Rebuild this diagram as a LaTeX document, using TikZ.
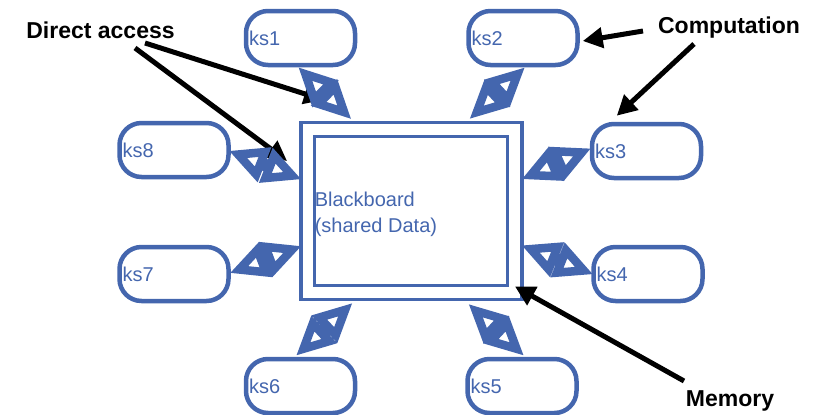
\documentclass[tikz,border=0pt]{standalone}
\usepackage{fontspec}
\setmainfont{Liberation Sans}
\usetikzlibrary{arrows.meta,calc}
\definecolor{kblue}{RGB}{68,102,174}
\newcommand\blkarrow[2]{%
  \path (#1) coordinate (ba-a) (#2) coordinate (ba-b);
  \path ($(ba-a)!24pt!(ba-b)$) coordinate (ba-h1)
        ($(ba-b)!24pt!(ba-a)$) coordinate (ba-h2);
  \draw[blockarrow] (ba-a) -- ($(ba-h1)!12pt!90:(ba-b)$) -- ($(ba-h1)!2pt!90:(ba-b)$)
    -- ($(ba-h2)!2pt!-90:(ba-a)$) -- ($(ba-h2)!12pt!-90:(ba-a)$) -- (ba-b)
    -- ($(ba-h2)!12pt!90:(ba-a)$) -- ($(ba-h2)!2pt!90:(ba-a)$)
    -- ($(ba-h1)!2pt!-90:(ba-b)$) -- ($(ba-h1)!12pt!-90:(ba-b)$) -- cycle;}
\begin{document}
\begin{tikzpicture}[x=1pt,y=-1pt,
  ksbox/.style={draw=kblue,line width=4.5pt,rounded corners=22pt,minimum height=54pt,
    text width=103pt,inner xsep=3pt,align=left,text=kblue,font=\fontsize{20}{24}\selectfont},
  bbox/.style={draw=kblue,line width=3.8pt,inner sep=0pt},
  blockarrow/.style={draw=kblue,fill=white,line width=8.5pt,line join=miter,miter limit=3},
  callout/.style={draw=black,line width=5pt,-{Triangle[width=20pt,length=20pt]}},
  lbl/.style={font=\bfseries\fontsize{23}{27}\selectfont,inner sep=0pt}]
\useasboundingbox (0,0) rectangle (817,415);
% knowledge sources
\node[ksbox] (ks1) at (300.5,38) {ks1};
\node[ksbox] (ks2) at (523,38) {ks2};
\node[ksbox] (ks3) at (646.5,151) {ks3};
\node[ksbox] (ks4) at (648,274) {ks4};
\node[ksbox] (ks5) at (522,386) {ks5};
\node[ksbox] (ks6) at (300.5,386) {ks6};
\node[ksbox] (ks7) at (174,274) {ks7};
\node[ksbox] (ks8) at (174,150) {ks8};
% blackboard
\node[bbox,minimum width=221pt,minimum height=177pt] (bb) at (411.5,211) {};
\node[bbox,minimum width=193pt,minimum height=149pt] (bbi) at (411,211) {};
\node[anchor=west,align=left,inner sep=0pt,text=kblue,font=\fontsize{20}{26}\selectfont] (bbt) at ($(bbi.west)+(2,3)$) {Blackboard\\(shared Data)};
% labels and callouts
\node[lbl] (da) at (100.5,30) {Direct access};
\node[lbl] (comp) at (729,28) {Computation};
\node[lbl] (mem) at (730,401) {Memory};
\coordinate (da1) at (145,43);
\coordinate (da2) at (135,48);
\coordinate (c1) at (643,31);
\coordinate (c2) at (694,44);
\coordinate (m1) at (684,381);
\draw[callout] (da1) -- (324,100);
\draw[callout] (da2) -- ($(bb.west)+(-12,-50)$);
\draw[callout] (c1) -- ($(ks2.east)+(3,3)$);
\draw[callout] (c2) -- ($(ks3.north west)+(27,-6)$);
\draw[callout] (m1) -- ($(bb.south east)+(-9,-15)$);
% block arrows
\blkarrow{$(ks1.south)+(5,7)$}{$(bb.north west)+(45,-8.5)$}
\blkarrow{$(ks2.south)+(-5.5,7)$}{$(bb.north east)+(-47,-8.5)$}
\blkarrow{$(ks3.west)+(-8,1.5)$}{$(bb.north east)+(7,54.5)$}
\blkarrow{$(bb.north east)+(7,128.5)$}{$(ks4.west)+(-7.5,-3.5)$}
\blkarrow{$(bb.south east)+(-48,9.5)$}{$(ks5.north)+(-5.5,-8)$}
\blkarrow{$(ks6.north)+(3,-8)$}{$(bb.south west)+(46,8.5)$}
\blkarrow{$(ks7.east)+(8.5,-4.5)$}{$(bb.north west)+(-7,129)$}
\blkarrow{$(ks8.east)+(7.5,4.5)$}{$(bb.north west)+(-7,55)$}
\end{tikzpicture}
\end{document}
